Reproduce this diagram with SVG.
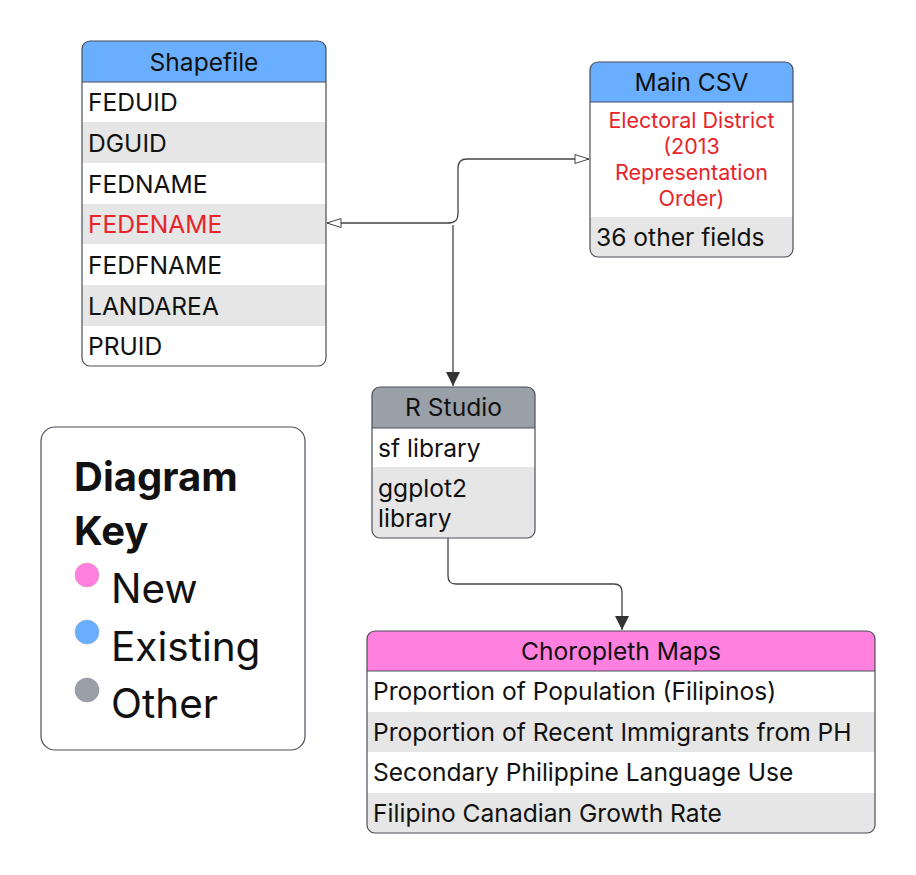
<svg xmlns="http://www.w3.org/2000/svg" width="916" height="875" viewBox="0 0 916 875">
<defs>
<style>
text{font-family:Inter,"Noto Sans",sans-serif;font-size:24.6px;fill:#111}
.h{text-anchor:middle}
.red{fill:#e8232a}
.sm{font-size:21.5px}
.alt{fill:#e6e6e6}
.frame{fill:none;stroke:#4a4f58;stroke-width:1.2}
.line{fill:none;stroke:#444;stroke-width:1.3}
.key{font-size:40.5px}
.kb{font-size:40px;font-weight:bold}
</style>
<marker id="hollow" markerWidth="16" markerHeight="12" refX="15" refY="6" orient="auto" markerUnits="userSpaceOnUse">
<path d="M1,1.5 L15,6 L1,10.5 Z" fill="#fff" stroke="#444" stroke-width="1"/>
</marker>
<marker id="filled" markerWidth="14" markerHeight="16" refX="14" refY="7" orient="auto" markerUnits="userSpaceOnUse">
<path d="M0,0 L14,7 L0,14 Z" fill="#333"/>
</marker>
<clipPath id="cs"><rect x="82" y="41" width="244" height="325" rx="8"/></clipPath>
<clipPath id="cm"><rect x="590" y="62" width="203" height="195" rx="8"/></clipPath>
<clipPath id="cr"><rect x="372" y="387" width="163" height="151" rx="8"/></clipPath>
<clipPath id="cc"><rect x="367" y="631" width="508" height="202" rx="8"/></clipPath>
</defs>

<g id="connectors">
<path class="line" d="M449,223 Q458,223 458,214 L458,168 Q458,159 467,159 L589,159" marker-end="url(#hollow)"/>
<path class="line" d="M450,223 L327,223" marker-end="url(#hollow)"/>
<path class="line" d="M453,225 L453,386" marker-end="url(#filled)"/>
<path class="line" d="M448,538 L448,576 Q448,584 456,584 L614,584 Q622,584 622,592 L622,630" marker-end="url(#filled)"/>
</g>

<g id="shapefile">
<g clip-path="url(#cs)">
<rect x="82" y="41" width="244" height="325" fill="#fff"/>
<rect x="82" y="41" width="244" height="41" fill="#6aaeff"/>
<rect class="alt" x="82" y="122" width="244" height="41"/>
<rect class="alt" x="82" y="204" width="244" height="40"/>
<rect class="alt" x="82" y="285" width="244" height="41"/>
</g>
<line x1="82" y1="82" x2="326" y2="82" stroke="#4a4f58" stroke-width="1"/>
<rect class="frame" x="82" y="41" width="244" height="325" rx="8"/>
<text class="h" x="204" y="71">Shapefile</text>
<text x="88" y="111">FEDUID</text>
<text x="88" y="152">DGUID</text>
<text x="88" y="193">FEDNAME</text>
<text x="88" y="233" class="red">FEDENAME</text>
<text x="88" y="274">FEDFNAME</text>
<text x="88" y="315">LANDAREA</text>
<text x="88" y="355">PRUID</text>
</g>

<g id="main-csv">
<g clip-path="url(#cm)">
<rect x="590" y="62" width="203" height="195" fill="#fff"/>
<rect x="590" y="62" width="203" height="40" fill="#6aaeff"/>
<rect class="alt" x="590" y="217" width="203" height="40"/>
</g>
<line x1="590" y1="102" x2="793" y2="102" stroke="#4a4f58" stroke-width="1"/>
<rect class="frame" x="590" y="62" width="203" height="195" rx="8"/>
<text class="h" x="691.5" y="91">Main CSV</text>
<text class="h red sm" x="691.5" y="128">Electoral District</text>
<text class="h red sm" x="691.5" y="154">(2013</text>
<text class="h red sm" x="691.5" y="180">Representation</text>
<text class="h red sm" x="691.5" y="206">Order)</text>
<text x="596" y="246">36 other fields</text>
</g>

<g id="r-studio">
<g clip-path="url(#cr)">
<rect x="372" y="387" width="163" height="151" fill="#fff"/>
<rect x="372" y="387" width="163" height="41" fill="#9aa0a8"/>
<rect class="alt" x="372" y="467" width="163" height="71"/>
</g>
<line x1="372" y1="428" x2="535" y2="428" stroke="#4a4f58" stroke-width="1"/>
<rect class="frame" x="372" y="387" width="163" height="151" rx="8"/>
<text class="h" x="453.5" y="416">R Studio</text>
<text x="378" y="457">sf library</text>
<text x="378" y="497">ggplot2</text>
<text x="378" y="527">library</text>
</g>

<g id="choropleth-maps">
<g clip-path="url(#cc)">
<rect x="367" y="631" width="508" height="202" fill="#fff"/>
<rect x="367" y="631" width="508" height="40" fill="#ff80df"/>
<rect class="alt" x="367" y="712" width="508" height="40"/>
<rect class="alt" x="367" y="793" width="508" height="40"/>
</g>
<line x1="367" y1="671" x2="875" y2="671" stroke="#4a4f58" stroke-width="1"/>
<rect class="frame" x="367" y="631" width="508" height="202" rx="8"/>
<text class="h" x="621" y="660">Choropleth Maps</text>
<text x="373" y="700">Proportion of Population (Filipinos)</text>
<text x="373" y="741">Proportion of Recent Immigrants from PH</text>
<text x="373" y="781">Secondary Philippine Language Use</text>
<text x="373" y="822">Filipino Canadian Growth Rate</text>
</g>

<g id="diagram-key">
<rect class="frame" x="41" y="427" width="264" height="323" rx="14" fill="#fff"/>
<text class="kb" x="74" y="491">Diagram</text>
<text class="kb" x="74" y="545">Key</text>
<circle cx="87" cy="575" r="12" fill="#ff80df" stroke="#c9a" stroke-width="0.5"/>
<text class="key" x="111" y="603">New</text>
<circle cx="87" cy="632" r="12" fill="#6aaeff" stroke="#8ab" stroke-width="0.5"/>
<text class="key" x="111" y="661">Existing</text>
<circle cx="87" cy="690" r="12" fill="#9aa0a8" stroke="#889" stroke-width="0.5"/>
<text class="key" x="111" y="718">Other</text>
</g>
</svg>
